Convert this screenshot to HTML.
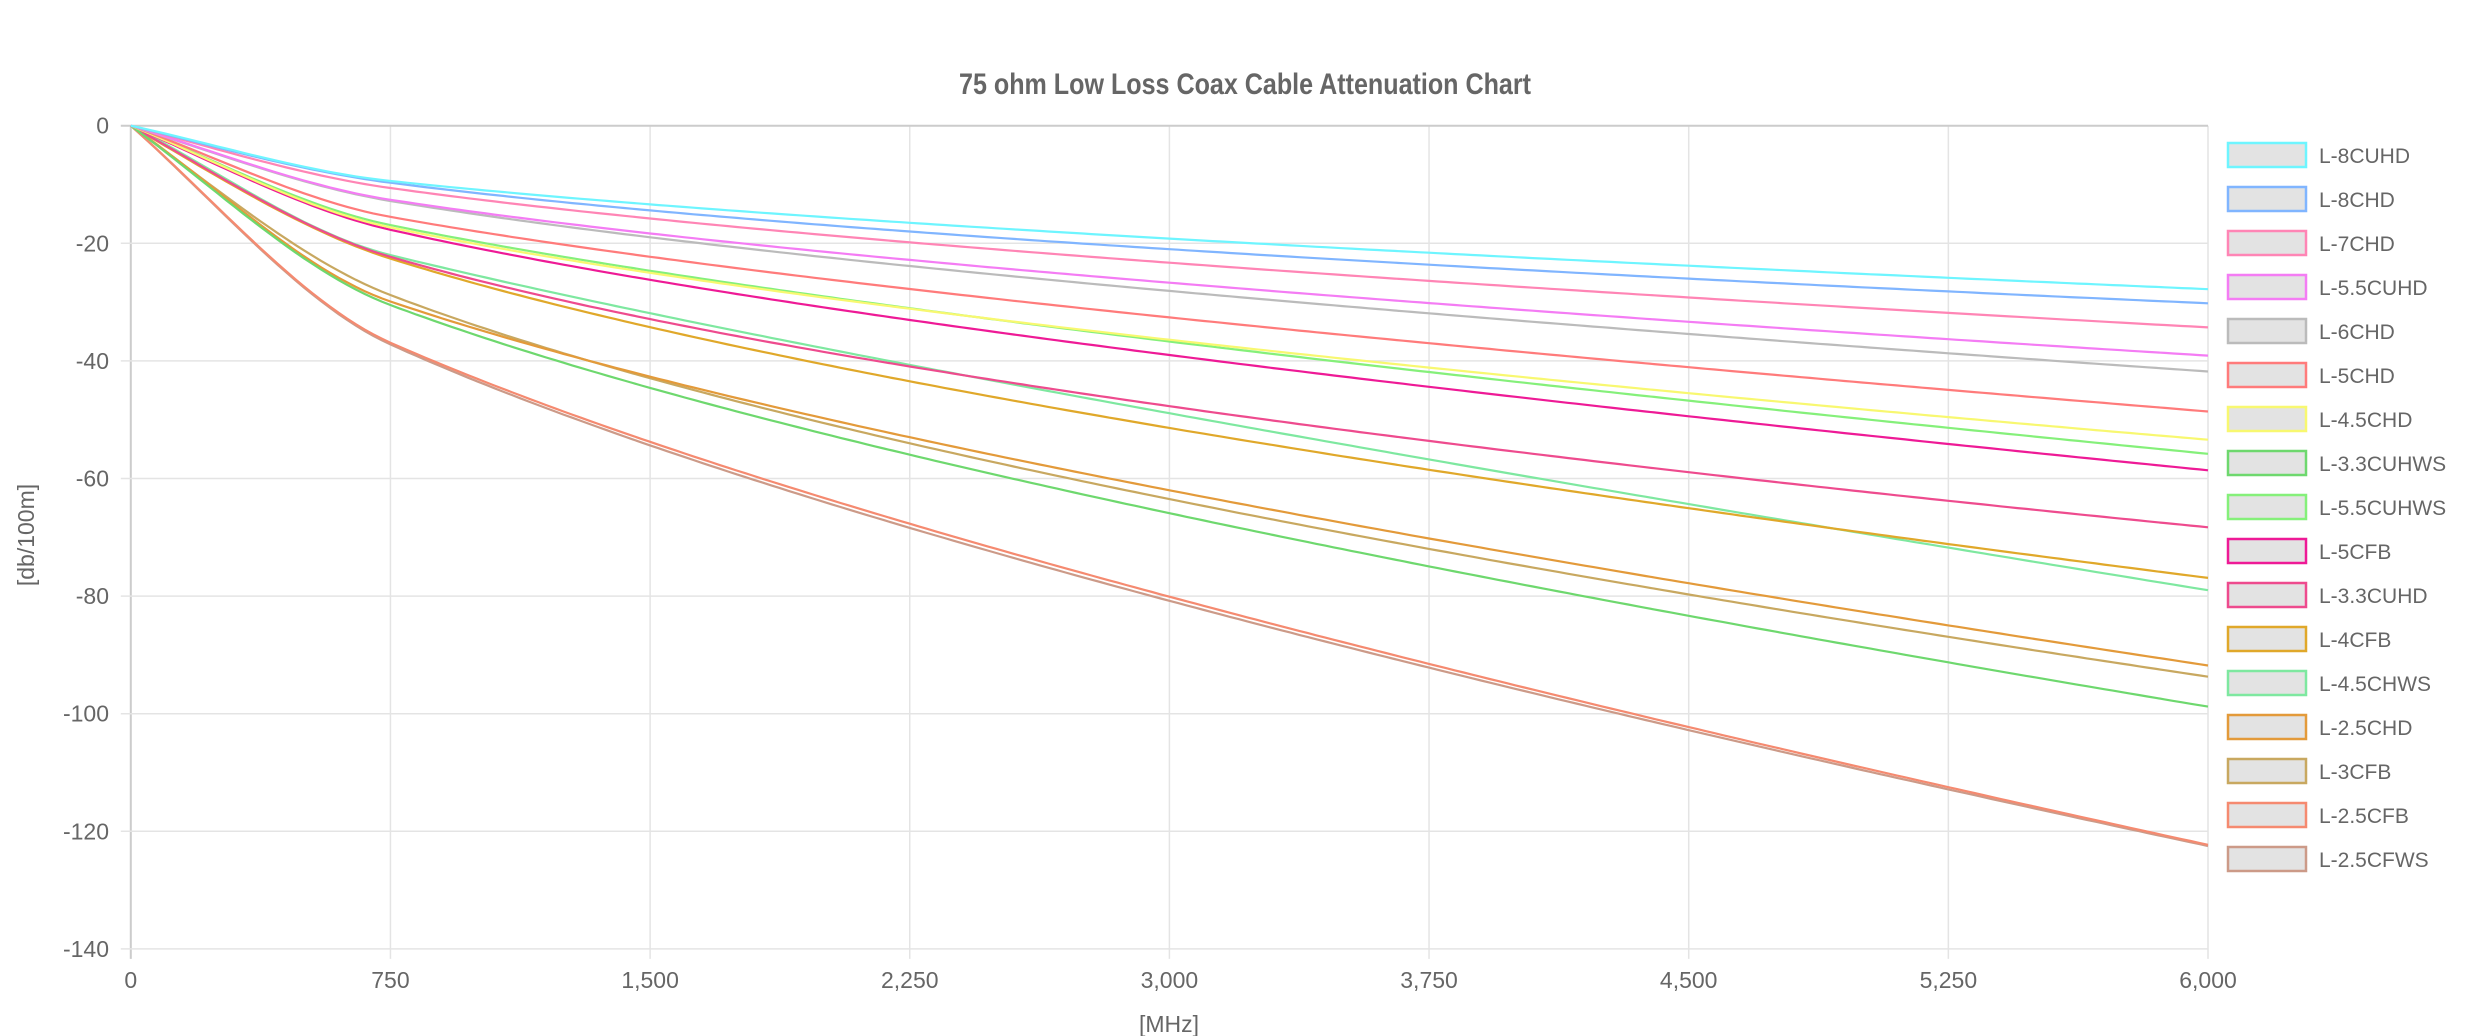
<!DOCTYPE html>
<html><head><meta charset="utf-8"><style>
html,body{margin:0;padding:0;background:#fff;}
svg{display:block;}
text{font-family:"Liberation Sans",sans-serif;fill:#666;}
</style></head><body>
<svg id="s" width="2480" height="1036" xmlns="http://www.w3.org/2000/svg">
<text x="1245" y="94" text-anchor="middle" font-size="30" font-weight="bold" textLength="572" lengthAdjust="spacingAndGlyphs" style="fill:#666">75 ohm Low Loss Coax Cable Attenuation Chart</text>
<g id="grid"></g>
<g id="lines" fill="none" stroke-width="2.2"></g>
<g id="legend"></g>
<text x="1169" y="1032" text-anchor="middle" font-size="23">[MHz]</text>
<text transform="translate(34,535) rotate(-90)" text-anchor="middle" font-size="23">[db/100m]</text>
</svg>
<script>
const NS="http://www.w3.org/2000/svg";
const X0=130.8,X1=2208,Y0=125.7,YS=5.88;
const fx=f=>X0+(X1-X0)*f/6000, fy=v=>Y0+v*YS;
function el(p,t,a,txt){const e=document.createElementNS(NS,t);for(const k in a)e.setAttribute(k,a[k]);if(txt!=null)e.textContent=txt;p.appendChild(e);return e;}
const g=document.getElementById('grid');
for(let i=0;i<=8;i++){const x=fx(i*750);el(g,'line',{x1:x,x2:x,y1:Y0,y2:fy(140)+10,stroke:i==0?'#ccc':'#e4e4e4','stroke-width':i==0?2:1.5});
el(g,'text',{x:x,y:988,'text-anchor':'middle','font-size':23},(i*750).toLocaleString('en-US'));}
for(let j=0;j<=7;j++){const y=fy(j*20);el(g,'line',{x1:X0-10,x2:X1,y1:y,y2:y,stroke:j==0?'#ccc':'#e4e4e4','stroke-width':j==0?2:1.5});
el(g,'text',{x:109,y:y+8,'text-anchor':'end','font-size':23},j==0?'0':'-'+j*20);}
const S=[
["L-8CUHD","#6ef5ff",[9.4,19.2,27.8]],
["L-8CHD","#80b5ff",[9.7,21.0,30.2]],
["L-7CHD","#ff85b5",[10.6,23.3,34.3]],
["L-5.5CUHD","#f47cf4",[12.6,26.7,39.1]],
["L-6CHD","#bbbbbb",[12.8,28.1,41.8]],
["L-5CHD","#ff7b7b",[15.5,32.6,48.6]],
["L-4.5CHD","#f8f870",[17.3,36.4,53.4]],
["L-3.3CUHWS","#6ed86e",[30.5,65.9,98.8]],
["L-5.5CUHWS","#85f07a",[16.9,36.7,55.8]],
["L-5CFB","#ee1a96",[17.7,39.0,58.6]],
["L-3.3CUHD","#ee4b8e",[22.3,47.7,68.3]],
["L-4CFB","#e0a82a",[22.6,51.4,76.9]],
["L-4.5CHWS","#7ee8a0",[22,48.9,79]],
["L-2.5CHD","#e39a3a",[29.9,62.0,91.8]],
["L-3CFB","#c8a860",[28.8,63.5,93.7]],
["L-2.5CFB","#f58a70",[36.9,80.1,122.3]],
["L-2.5CFWS","#cc9a88",[37.2,80.8,122.5]]];
function solve(M,v){const d=m=>m[0][0]*(m[1][1]*m[2][2]-m[1][2]*m[2][1])-m[0][1]*(m[1][0]*m[2][2]-m[1][2]*m[2][0])+m[0][2]*(m[1][0]*m[2][1]-m[1][1]*m[2][0]);
const D=d(M);return [0,1,2].map(c=>d(M.map((r,i)=>r.map((x,j)=>j==c?v[i]:x)))/D);}
const L=document.getElementById('lines'),G=document.getElementById('legend');
[...S].reverse().forEach(([n,c,v])=>{
 const F=[750,3000,6000];const [a,b,cc]=solve(F.map(f=>[Math.sqrt(f),f,1]),v);
 const m=f=>a*Math.sqrt(f)+b*f+cc, dm=f=>a/(2*Math.sqrt(f))+b;
 const h=750,p1=v[0],m1=dm(750),m0=m1+8*0.065*p1/h;
 let pts=[];
 for(let f=0;f<=6000;f+=25){let y;
  if(f<750){const t=f/h,t2=t*t,t3=t2*t;y=(3*t2-2*t3)*p1+(t3-2*t2+t)*h*m0+(t3-t2)*h*m1;}
  else y=m(f);
  pts.push(fx(f).toFixed(1)+','+fy(y).toFixed(1));}
 el(L,'polyline',{points:pts.join(' '),stroke:c});
});
S.forEach(([n,c],i)=>{const y=155+i*44;
 el(G,'rect',{x:2228,y:y-12,width:78,height:24,fill:'#e3e3e3',stroke:c,'stroke-width':2.5});
 el(G,'text',{x:2319,y:y+8,'font-size':21},n);});
</script>
</body></html>
